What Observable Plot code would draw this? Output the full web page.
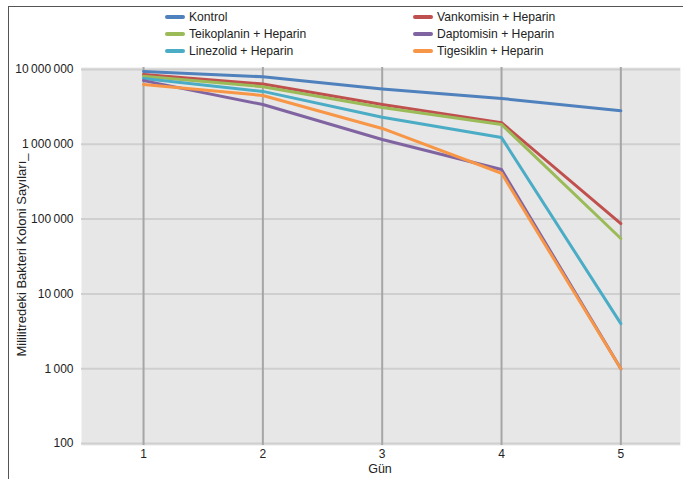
<!DOCTYPE html>
<html>
<head>
<meta charset="utf-8">
<script src="https://cdn.jsdelivr.net/npm/d3@7"></script>
<script src="https://cdn.jsdelivr.net/npm/@observablehq/plot@0.6"></script>
<style>
  html, body { margin: 0; padding: 0; background: #fff; }
  #wrap { position: relative; width: 683px; height: 479px; overflow: hidden; }
  #border { position: absolute; left: 8px; top: 6px; width: 700px; height: 500px;
            border-left: 1.5px solid #555; border-top: 1.5px solid #555; }
  #chart { position: absolute; left: 0; top: 0; }
  .leg { position: absolute; font-family: "Liberation Sans Narrow", "Arial Narrow", "Liberation Sans", sans-serif;
         font-size: 13.5px; color: #222; line-height: 14px; white-space: nowrap;
         transform: scaleX(0.9); transform-origin: 0 50%; }
  .sw { position: absolute; width: 20px; height: 4px; border-radius: 2px; }
  #ylab { position: absolute; left: 21px; top: 255px; transform: translate(-50%, -50%) rotate(-90deg);
          font-family: "Liberation Sans", Arial, sans-serif; font-size: 13px; color: #222; white-space: nowrap; }
  #xlab { position: absolute; left: 380px; top: 469px; transform: translate(-50%, -50%);
          font-family: "Liberation Sans", Arial, sans-serif; font-size: 12.5px; color: #222; }
</style>
</head>
<body>
<div id="wrap">
  <div id="chart"></div>
  <div id="border"></div>
  <div id="legend"></div>
  <div id="ylab">Mililitredeki Bakteri Koloni Sayıları_</div>
  <div id="xlab">Gün</div>
</div>
<script>
const days = [1, 2, 3, 4, 5];
const seriesNames = ["Kontrol", "Vankomisin + Heparin", "Teikoplanin + Heparin", "Linezolid + Heparin", "Daptomisin + Heparin", "Tigesiklin + Heparin"];
const seriesColors = ["#4F81BD", "#C0504D", "#9BBB59", "#4BACC6", "#8064A2", "#F79646"];
// legend layout: column 1 then column 2 (as in the reference)
const legendCol1 = ["Kontrol", "Teikoplanin + Heparin", "Linezolid + Heparin"];
const legendCol2 = ["Vankomisin + Heparin", "Daptomisin + Heparin", "Tigesiklin + Heparin"];
const kontrol     = [9.4e6, 8.0e6, 5.5e6, 4.1e6, 2.8e6];
const vankomisin  = [8.6e6, 6.4e6, 3.4e6, 1.95e6, 8.7e4];
const teikoplanin = [8.1e6, 5.9e6, 3.1e6, 1.84e6, 5.5e4];
const linezolid   = [7.6e6, 5.1e6, 2.3e6, 1.23e6, 4.0e3];
const daptomisin  = [7.1e6, 3.4e6, 1.16e6, 4.6e5, 1.0e3];
const tigesiklin  = [6.3e6, 4.5e6, 1.63e6, 4.1e5, 1.0e3];
const yTicks = [100, 1000, 10000, 100000, 1000000, 10000000];

const allSeries = [kontrol, vankomisin, teikoplanin, linezolid, daptomisin, tigesiklin];
const rows = [];
allSeries.forEach((vals, i) => vals.forEach((v, j) => rows.push({day: days[j], value: v, series: seriesNames[i]})));

const fmt = d => d3.format(",")(d).replace(/,/g, "\u2009");

const chart = Plot.plot({
  width: 683,
  height: 479,
  marginLeft: 81,
  marginRight: 3,
  marginTop: 67,
  marginBottom: 34,
  style: {fontFamily: "'Liberation Sans', Arial, sans-serif", fontSize: "12px", color: "#222", background: "transparent"},
  x: {domain: [0.48, 5.5], ticks: days, tickSize: 0, tickPadding: 4, label: null, tickFormat: d => String(d)},
  y: {type: "log", domain: [94, 1.064e7], ticks: yTicks, tickSize: 0, tickPadding: 8, label: null, tickFormat: fmt},
  color: {domain: seriesNames, range: seriesColors},
  marks: [
    Plot.frame({fill: "#e7e7e7", stroke: null}),
    Plot.ruleY(yTicks, {stroke: "#cfcfcf", strokeWidth: 2}),
    Plot.ruleX(days, {stroke: "#a6a6a6", strokeWidth: 2}),
    Plot.line(rows, {x: "day", y: "value", z: "series", stroke: "series", strokeWidth: 3, strokeLinejoin: "round"})
  ]
});
document.getElementById("chart").appendChild(chart);

// Legend (two columns, three rows)
const legend = document.getElementById("legend");
const colX = [165, 413];
const rowY = [17, 34, 51];
[legendCol1, legendCol2].forEach((names, col) => {
  names.forEach((name, row) => {
    const i = seriesNames.indexOf(name);
    const sw = document.createElement("div");
    sw.className = "sw";
    sw.style.left = colX[col] + "px";
    sw.style.top = (rowY[row] - 2) + "px";
    sw.style.background = seriesColors[i];
    legend.appendChild(sw);
    const t = document.createElement("div");
    t.className = "leg";
    t.textContent = name;
    t.style.left = (colX[col] + 24) + "px";
    t.style.top = (rowY[row] - 7) + "px";
    legend.appendChild(t);
  });
});
</script>
</body>
</html>
